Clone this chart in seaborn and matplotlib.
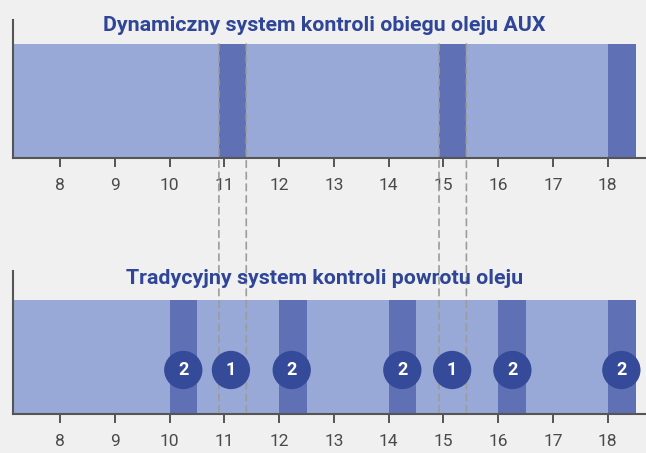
import matplotlib
matplotlib.use("Agg")
import matplotlib.pyplot as plt
from matplotlib.patches import ConnectionPatch
import seaborn as sns
import pandas as pd

# ==============================
# Data
# ==============================
hours = [8, 9, 10, 11, 12, 13, 14, 15, 16, 17, 18]
day_start, day_end = 7.14, 18.51

aux_start = [10.9, 14.92, 18.0]
aux_end = [11.4, 15.42, 18.51]

trad_start = [10.0, 12.0, 14.0, 16.0, 18.0]
trad_end = [10.5, 12.5, 14.5, 16.5, 18.51]

badge_x = [10.25, 11.12, 12.23, 14.25, 15.16, 16.26, 18.25]
badge_label = ["2", "1", "2", "2", "1", "2", "2"]

link_x = [10.9, 11.4, 14.92, 15.42]

title_top = "Dynamiczny system kontroli obiegu oleju AUX"
title_bottom = "Tradycyjny system kontroli powrotu oleju"

# ==============================
# Style
# ==============================
BG = "#F0F0F0"
LIGHT = "#98A9D8"
DARK = "#5F70B5"
BADGE = "#354A99"
TITLE_C = "#2F4597"
AXIS_C = "#555555"

sns.set_theme(style="white")
plt.rcParams["font.family"] = ["Roboto", "DejaVu Sans"]

fig = plt.figure(figsize=(6.46, 4.53), dpi=100, facecolor=BG)
ax1 = fig.add_axes([13 / 646, 295 / 453, 633 / 646, 138 / 453])
ax2 = fig.add_axes([13 / 646, 39 / 453, 633 / 646, 143 / 453])


def style_axis(ax, top):
    ax.set_facecolor(BG)
    ax.set_xlim(day_start, 18.70)
    ax.set_ylim(0, top)
    for s in ["top", "right"]:
        ax.spines[s].set_visible(False)
    for s in ["left", "bottom"]:
        ax.spines[s].set_color(AXIS_C)
        ax.spines[s].set_linewidth(1.5)
    ax.set_xticks(hours)
    ax.set_xticklabels([str(h) for h in hours])
    ax.set_yticks([])
    ax.tick_params(axis="x", direction="inout", length=13, width=1.4,
                   color=AXIS_C, labelsize=12.5, labelcolor="#4a4a4a", pad=8,
                   bottom=True)
    ax.grid(False)


# full day bar + peak bands
for ax, starts, ends in [(ax1, aux_start, aux_end), (ax2, trad_start, trad_end)]:
    ax.bar(day_start, 1, width=day_end - day_start, align="edge",
           color=LIGHT, linewidth=0, zorder=1)
    ax.bar(starts, 1, width=[e - s for s, e in zip(starts, ends)],
           align="edge", color=DARK, linewidth=0, zorder=2)

style_axis(ax1, 138 / 114)
style_axis(ax2, 143 / 114)

# dashed links between panels
for x in link_x:
    con = ConnectionPatch(xyA=(x, 1), coordsA=ax1.transData,
                          xyB=(x, 0), coordsB=ax2.transData,
                          color="#9C9C9C", lw=1.2, linestyle=(0, (4, 3)),
                          zorder=3)
    con.set_clip_on(False)
    ax2.add_artist(con)

# badges
badges = pd.DataFrame({"x": badge_x, "y": [0.386] * len(badge_x),
                       "label": badge_label})
sns.scatterplot(data=badges, x="x", y="y", ax=ax2, s=760, color=BADGE,
                edgecolor="none", zorder=5, legend=False)
for _, r in badges.iterrows():
    ax2.text(r["x"], r["y"], r["label"], ha="center", va="center",
             color="white", fontsize=13, fontweight="bold", zorder=6)
ax2.set_xlabel("")
ax2.set_ylabel("")

fig.text(0.502, (453 - 31) / 453, title_top, ha="center", va="baseline",
         color=TITLE_C, fontsize=15.4, fontweight="bold")
fig.text(0.503, (453 - 284) / 453, title_bottom, ha="center", va="baseline",
         color=TITLE_C, fontsize=15.4, fontweight="bold")

fig.savefig("out.png", dpi=100, facecolor=BG)
